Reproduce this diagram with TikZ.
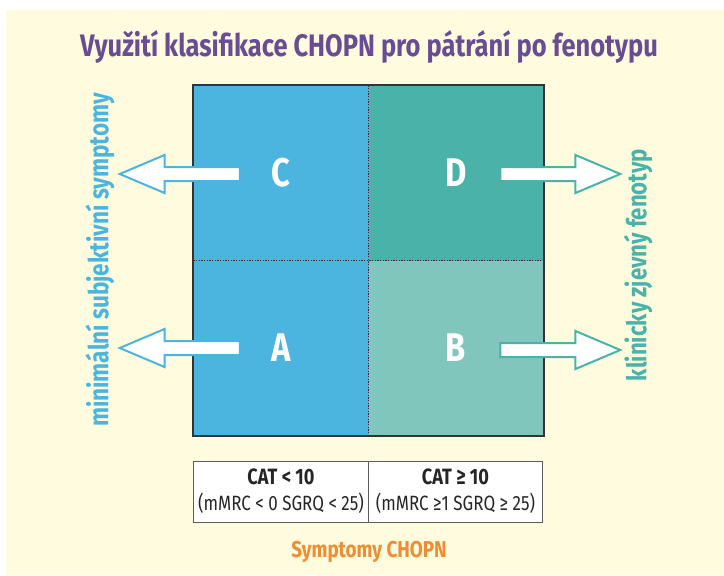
\documentclass[tikz,border=0pt]{standalone}
\usepackage{fontspec}
\setmainfont{Fira Sans}[FakeStretch=0.82]
\usepackage{tikz}
\usetikzlibrary{shapes.arrows}
\definecolor{paper}{RGB}{254,251,222}
\definecolor{titlepurple}{RGB}{106,76,147}
\definecolor{cblue}{RGB}{75,180,223}
\definecolor{dteal}{RGB}{74,178,169}
\definecolor{bteal}{RGB}{128,198,189}
\definecolor{symorange}{RGB}{240,140,50}
\definecolor{framegray}{RGB}{51,51,51}

\begin{document}
\begin{tikzpicture}[
    x=0.75pt, y=-0.75pt,
    quad/.style={minimum width=131.25pt, minimum height=131.25pt, inner sep=0pt, text=white, font=\fontsize{30}{30}\selectfont\bfseries},
    fatarrow/.style={single arrow, fill=white, line width=1.5pt, minimum height=90pt, inner sep=4.5pt, single arrow head extend=9pt, single arrow tip angle=46},
    catcell/.style={draw=framegray!80, line width=0.6pt, fill=white, minimum width=130.5pt, minimum height=45.75pt, align=center, text=black!85, font=\fontsize{15.5}{19.5}\selectfont},
    sidelabel/.style={rotate=90},
]
    \useasboundingbox (0,0) rectangle (724,575);
    \fill[paper] (6,10) rectangle (724,575);

    \node[font=\fontsize{23.3}{24}\selectfont\bfseries, text=titlepurple] (title) at (369,47) {Využití klasifikace CHOPN pro pátrání po fenotypu};

    % quadrants
    \node[quad, fill=cblue] (C) at (281,173) {C};
    \node[quad, fill=dteal] (D) at (456,173) {D};
    \node[quad, fill=cblue] (A) at (281,348) {A};
    \node[quad, fill=bteal] (B) at (456,348) {B};
    \draw[framegray, densely dotted, line width=1pt] (C.north east) -- (A.south east);
    \draw[framegray, densely dotted, line width=1pt] (C.south west) -- (D.south east);
    \draw[framegray, line width=1.5pt] (C.north west) rectangle (B.south east);

    % arrows out of the square
    \node[fatarrow, draw=cblue, shape border rotate=180] (arrC) at (188,174) {};
    \node[fatarrow, draw=cblue, shape border rotate=180] (arrA) at (188,348) {};
    \node[fatarrow, draw=dteal] (arrD) at (552,174) {};
    \node[fatarrow, draw=dteal] (arrB) at (552,350) {};

    \node[sidelabel, text=cblue, font=\fontsize{20.6}{21}\selectfont\bfseries] (minimal) at (100,260) {minimální subjektivní symptomy};
    \node[sidelabel, text=dteal, font=\fontsize{20.3}{21}\selectfont\bfseries] (clinical) at (638,265) {klinicky zjevný fenotyp};

    % symptom scale under the square
    \node[catcell] (lowcat) at (281,491.5) {{\fontsize{16.6}{19.5}\selectfont\bfseries CAT < 10}\\(mMRC < 0 SGRQ < 25)};
    \node[catcell] (highcat) at (455.5,491.5) {{\fontsize{16.6}{19.5}\selectfont\bfseries CAT ≥ 10}\\(mMRC ≥1 SGRQ ≥ 25)};

    \node[font=\fontsize{17.2}{17}\selectfont\bfseries, text=symorange] (symptoms) at (369,552) {Symptomy CHOPN};
\end{tikzpicture}
\end{document}
